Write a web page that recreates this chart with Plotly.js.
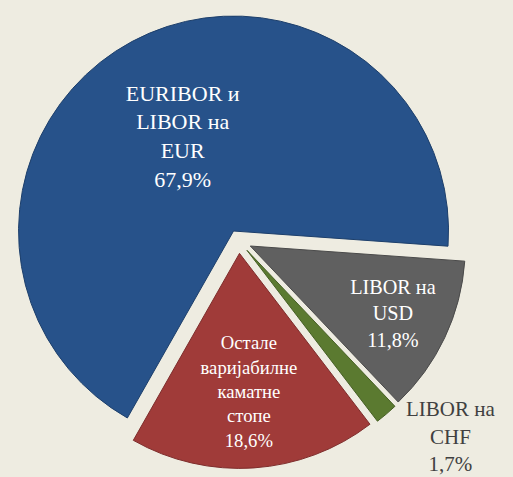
<!DOCTYPE html>
<html>
<head>
<meta charset="utf-8">
<script src="https://cdn.plot.ly/plotly-3.0.1.min.js"></script>
<style>html,body{margin:0;padding:0;background:#EEECE1;}#chart{width:513px;height:477px;}</style>
</head>
<body>
<div id="chart"></div>
<script>
// Data
const labels = ["EURIBOR и<br>LIBOR на<br>EUR", "LIBOR на<br>USD", "LIBOR на<br>CHF", "Остале<br>варијабилне<br>каматне<br>стопе"];
const values = [67.9, 11.8, 1.7, 18.6];
const colors = ["#27528A", "#606060", "#5B7A30", "#A03B39"];
const lineColors = ["#1d3f6b", "#4a4a4a", "#465f25", "#7e2d2c"];
const textPositions = ["inside", "inside", "outside", "inside"];
const pulls = [0.05, 0.06, 0.06, 0.06];

const serif = "Liberation Serif";

const trace = {
  type: "pie",
  labels: labels,
  values: values,
  sort: false,
  direction: "clockwise",
  rotation: 209.6,
  pull: pulls,
  marker: {colors: colors, line: {color: lineColors, width: 1}},
  textposition: textPositions,
  texttemplate: "%{label}<br>%{percent:.1%}",
  insidetextorientation: "horizontal",
  textfont: {family: serif, size: 22},
  insidetextfont: {family: serif, size: 22, color: "#FFFFFF"},
  outsidetextfont: {family: serif, size: 21, color: "#404040"},
  hoverinfo: "label+percent",
  domain: {x: [0.0209, 0.9094], y: [0.018, 0.9736]},
  showlegend: false
};

const layout = {
  width: 513,
  height: 477,
  margin: {l: 0, r: 0, t: 0, b: 0},
  paper_bgcolor: "#EEECE1",
  plot_bgcolor: "#EEECE1",
  separators: ", ",
  font: {family: serif},
  showlegend: false
};

Plotly.newPlot("chart", [trace], layout, {displayModeBar: false, staticPlot: true});
</script>
</body>
</html>
